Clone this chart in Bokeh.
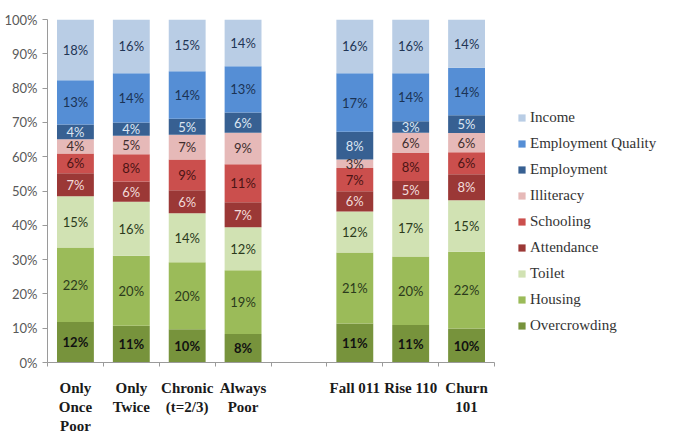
from bokeh.plotting import figure
from bokeh.models import (ColumnDataSource, Range1d, FixedTicker, Legend, LegendItem,
                          PrintfTickFormatter)
from bokeh.core.properties import value
from bokeh.embed import file_html
from bokeh.resources import INLINE

categories = ["Only\nOnce\nPoor", "Only\nTwice", "Chronic\n(t=2/3)", "Always\nPoor", "",
              "Fall 011", "Rise 110", "Churn\n101"]
bar_slots = [0, 1, 2, 3, 5, 6, 7]  # slot 4 is the empty gap

series_names = ["Overcrowding", "Housing", "Toilet", "Attendance", "Schooling",
                "Illiteracy", "Employment", "Employment Quality", "Income"]

overcrowding = [11.8, 10.7, 9.7, 8.3, 11.4, 10.9, 9.9]
housing = [21.7, 20.4, 19.5, 18.6, 20.7, 20.0, 22.4]
toilet = [15.0, 15.8, 14.3, 12.5, 11.9, 16.7, 15.0]
attendance = [6.7, 5.9, 6.7, 7.3, 5.9, 5.3, 7.6]
schooling = [5.7, 7.9, 9.0, 11.1, 6.8, 8.2, 6.4]
illiteracy = [4.2, 5.4, 7.2, 9.2, 2.5, 5.9, 5.6]
employment = [4.3, 3.9, 4.7, 5.9, 8.1, 3.3, 5.2]
employment_quality = [12.9, 14.3, 13.8, 13.5, 17.0, 14.0, 13.8]
income = [17.7, 15.7, 15.1, 13.6, 15.7, 15.7, 14.1]

lbl_overcrowding = [12, 11, 10, 8, 11, 11, 10]
lbl_housing = [22, 20, 20, 19, 21, 20, 22]
lbl_toilet = [15, 16, 14, 12, 12, 17, 15]
lbl_attendance = [7, 6, 6, 7, 6, 5, 8]
lbl_schooling = [6, 8, 9, 11, 7, 8, 6]
lbl_illiteracy = [4, 5, 7, 9, 3, 6, 6]
lbl_employment = [4, 4, 5, 6, 8, 3, 5]
lbl_employment_quality = [13, 14, 14, 13, 17, 14, 14]
lbl_income = [18, 16, 15, 14, 16, 16, 14]

y_ticks = [0, 10, 20, 30, 40, 50, 60, 70, 80, 90, 100]

series_values = [overcrowding, housing, toilet, attendance, schooling,
                 illiteracy, employment, employment_quality, income]
series_labels = [lbl_overcrowding, lbl_housing, lbl_toilet, lbl_attendance, lbl_schooling,
                 lbl_illiteracy, lbl_employment, lbl_employment_quality, lbl_income]

fill_colors = ["#77933C", "#9BBB59", "#D1E2B3", "#9B3836", "#CB4F4D",
               "#E6B9B8", "#376092", "#558ED5", "#B9CDE5"]
text_colors = ["#111111", "#2B3A1C", "#2B3A1C", "#F2DCDB", "#4B1414",
               "#3F2E2E", "#DCE6F2", "#1B3354", "#1F3555"]

xs = [s + 0.5 for s in bar_slots]
data = {"x": xs}
keys = []
for i, vals in enumerate(series_values):
    k = "s%d" % i
    keys.append(k)
    data[k] = vals
source = ColumnDataSource(data)

n_slots = len(categories)
x_end = n_slots * (681 - 47) / 447.0  # leave room on the right for the legend

p = figure(width=681, height=436, output_backend="svg", toolbar_location=None,
           x_range=Range1d(0, x_end), y_range=Range1d(0, 100),
           min_border_left=47, min_border_right=0, min_border_top=19, min_border_bottom=67)
p.outline_line_color = None
p.xgrid.visible = False
p.ygrid.visible = False
p.background_fill_color = "white"

renderers = p.vbar_stack(keys, x="x", width=0.66, source=source, color=fill_colors,
                         line_color=None)

# data labels
bottoms = [0.0] * len(xs)
for i, vals in enumerate(series_values):
    mids = [b + v / 2.0 for b, v in zip(bottoms, vals)]
    bottoms = [b + v for b, v in zip(bottoms, vals)]
    texts = ["%d%%" % t for t in series_labels[i]]
    p.text(x=xs, y=mids, text=texts, text_align="center", text_baseline="middle",
           text_font=value("Lato"), text_font_size="13px", text_color=text_colors[i],
           text_font_style="bold" if i == 0 else "normal")

# y axis
ya = p.yaxis[0]
ya.ticker = FixedTicker(ticks=y_ticks)
ya.formatter = PrintfTickFormatter(format="%d%%")
ya.major_label_text_font = "Lato"
ya.major_label_text_font_size = "13px"
ya.major_label_text_color = "#595959"
ya.axis_line_color = "#9A9A9A"
ya.major_tick_line_color = "#9A9A9A"
ya.major_tick_out = 5
ya.major_tick_in = 0
ya.minor_tick_line_color = None
ya.major_label_standoff = 5

# x axis
xa = p.xaxis[0]
xa.bounds = (0, n_slots)
xa.ticker = FixedTicker(ticks=xs, minor_ticks=list(range(n_slots + 1)))
xa.major_label_overrides = {x: categories[s] for x, s in zip(xs, bar_slots)}
xa.major_label_text_font = "Liberation Serif"
xa.major_label_text_font_style = "bold"
xa.major_label_text_font_size = "15px"
xa.major_label_text_color = "#1A1A1A"
xa.axis_line_color = "#9A9A9A"
xa.major_tick_line_color = None
xa.minor_tick_line_color = "#9A9A9A"
xa.minor_tick_out = 4
xa.minor_tick_in = 0
xa.major_label_standoff = 11

items = [LegendItem(label=series_names[i], renderers=[renderers[i]])
         for i in reversed(range(len(series_names)))]
legend = Legend(items=items, location=(470, 27), orientation="vertical")
legend.label_text_font = "Liberation Serif"
legend.label_text_font_size = "15px"
legend.label_text_color = "#333333"
legend.glyph_width = 9
legend.glyph_height = 9
legend.label_height = 20
legend.spacing = 6
legend.padding = 0
legend.margin = 0
legend.label_standoff = 4
legend.background_fill_alpha = 0
legend.border_line_alpha = 0
p.add_layout(legend, "center")

open("out.html", "w").write(file_html(p, INLINE))
